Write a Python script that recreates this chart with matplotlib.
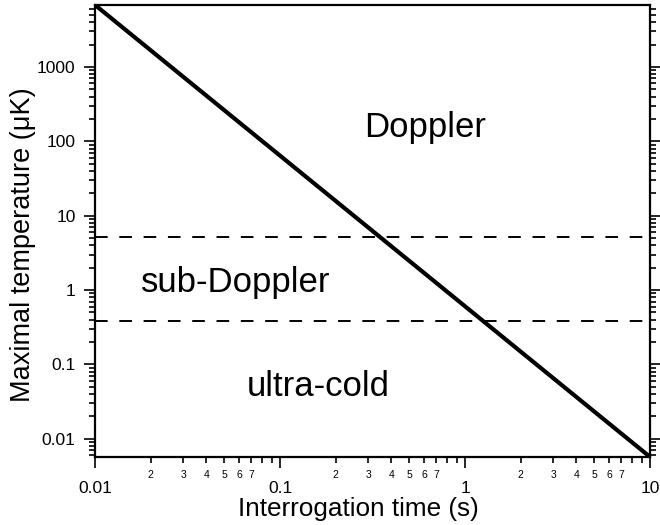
import matplotlib
matplotlib.use("Agg")
import math
import matplotlib.pyplot as plt
from matplotlib.ticker import LogLocator, FuncFormatter, NullFormatter

plt.rcParams['font.family'] = ['Liberation Sans', 'DejaVu Sans']

# data
t_line = [0.01, 10.0]          # interrogation time (s)
T_line = [6800.0, 0.0057]      # maximal temperature (uK)
T_doppler = 5.2                # upper dashed limit
T_subdoppler = 0.38            # lower dashed limit
x_major = [0.01, 0.1, 1, 10]
x_major_labels = ['0.01', '0.1', '1', '10']
y_major = [0.01, 0.1, 1, 10, 100, 1000]
y_major_labels = ['0.01', '0.1', '1', '10', '100', '1000']

fig = plt.figure(figsize=(6.6, 5.25), dpi=100)
ax = fig.add_axes([0.144, 0.1295, 0.841, 0.861])

ax.plot(t_line, T_line, color='black', lw=3.0, solid_capstyle='butt')
ax.axhline(T_doppler, color='black', lw=1.4, ls=(0, (6.5, 6)))
ax.axhline(T_subdoppler, color='black', lw=1.4, ls=(0, (6.5, 6)))

ax.set_xscale('log')
ax.set_yscale('log')
ax.set_xlim(0.01, 10)
ax.set_ylim(0.0057, 6800)

ax.set_xticks(x_major)
ax.set_xticklabels(x_major_labels)
ax.set_yticks(y_major)
ax.set_yticklabels(y_major_labels)
ax.xaxis.set_minor_locator(LogLocator(base=10, subs=range(2, 10)))
ax.yaxis.set_minor_locator(LogLocator(base=10, subs=range(2, 10)))


def minor_fmt(v, pos):
    m = v / 10 ** math.floor(math.log10(v) + 1e-9)
    d = int(round(m))
    return str(d) if d <= 7 else ''


ax.xaxis.set_minor_formatter(FuncFormatter(minor_fmt))
ax.yaxis.set_minor_formatter(NullFormatter())

ax.tick_params(which='both', direction='out', top=False, right=True,
               width=1.2, color='black')
ax.tick_params(axis='x', which='major', length=8, pad=9, labelsize=12.5)
ax.tick_params(axis='x', which='minor', length=4, pad=5, labelsize=7.5)
ax.tick_params(axis='y', which='major', length=8, pad=6, labelsize=12.5)
ax.tick_params(axis='y', which='minor', length=4)

for s in ax.spines.values():
    s.set_linewidth(1.6)

ax.set_xlabel('Interrogation time (s)', fontsize=18.8)
ax.set_ylabel('Maximal temperature (\u03bcK)', fontsize=19.5)
ax.xaxis.set_label_coords(0.474, -0.089)
ax.yaxis.set_label_coords(-0.106, 0.469)

ax.text(0.595, 0.728, 'Doppler', transform=ax.transAxes, fontsize=25,
        ha='center', va='center')
ax.text(0.254, 0.387, 'sub-Doppler', transform=ax.transAxes, fontsize=25,
        ha='center', va='center')
ax.text(0.402, 0.157, 'ultra-cold', transform=ax.transAxes, fontsize=25,
        ha='center', va='center')

fig.savefig('out.png', dpi=100)
